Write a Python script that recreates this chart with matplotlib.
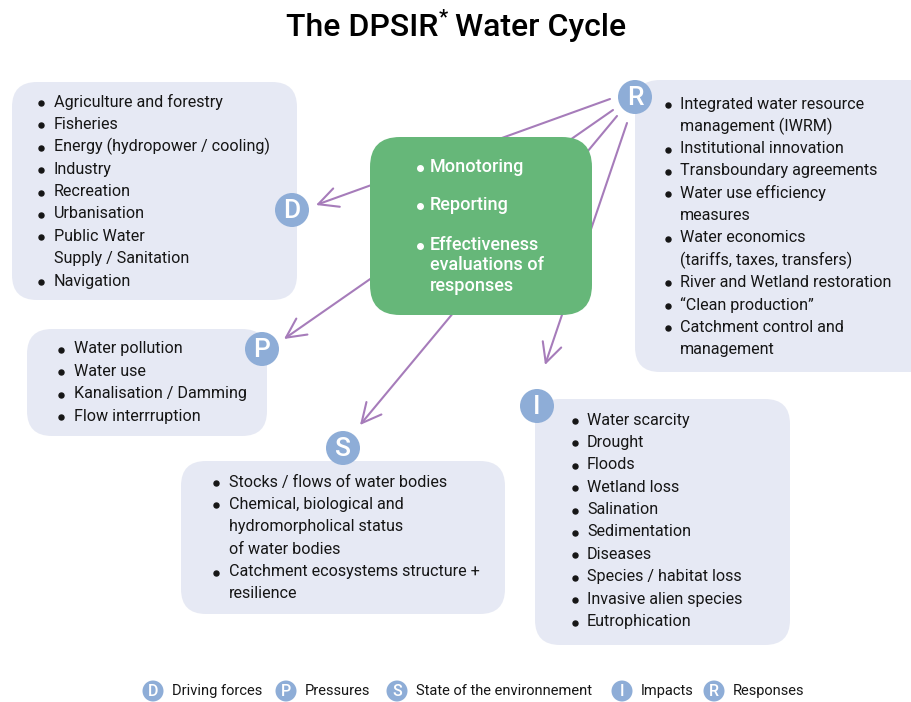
import matplotlib.pyplot as plt
from matplotlib.patches import FancyBboxPatch, Circle, FancyArrowPatch

plt.rcParams['font.family'] = ['Roboto', 'DejaVu Sans']

# box contents
driving = ["Agriculture and forestry", "Fisheries", "Energy (hydropower / cooling)",
           "Industry", "Recreation", "Urbanisation", "Public Water",
           "  Supply / Sanitation", "Navigation"]
pressures = ["Water pollution", "Water use", "Kanalisation / Damming", "Flow interrruption"]
state = ["Stocks / flows of water bodies", "Chemical, biological and",
         "  hydromorpholical status", "  of water bodies",
         "Catchment ecosystems structure +", "  resilience"]
impacts = ["Water scarcity", "Drought", "Floods", "Wetland loss", "Salination",
           "Sedimentation", "Diseases", "Species / habitat loss",
           "Invasive alien species", "Eutrophication"]
responses = ["Integrated water resource", "  management (IWRM)", "Institutional innovation",
             "Transboundary agreements", "Water use efficiency", "  measures",
             "Water economics", "  (tariffs, taxes, transfers)",
             "River and Wetland restoration", "\u201cClean production\u201d",
             "Catchment control and", "  management"]
centre = ["Monotoring", "Reporting", "Effectiveness", "  evaluations of", "  responses"]

legend_keys = ["D", "P", "S", "I", "R"]
legend_labels = ["Driving forces", "Pressures", "State of the environnement", "Impacts", "Responses"]

BOX = "#e6e9f4"
CIRC = "#8eadd7"
GREEN = "#66b779"
ARROW = "#a67cba"
TXT = "#161616"

fig = plt.figure(figsize=(9.12, 7.02), dpi=100)
ax = fig.add_axes([0, 0, 1, 1])
ax.set_xlim(0, 912)
ax.set_ylim(702, 0)
ax.axis('off')


def rbox(x0, y0, x1, y1, color, r=25, z=1):
    p = FancyBboxPatch((x0, y0), x1 - x0, y1 - y0,
                       boxstyle="round,pad=0,rounding_size=%d" % r,
                       fc=color, ec='none', zorder=z)
    ax.add_patch(p)


def bullets(items, xb, xt, y0, dy, color=TXT, size=11.6, z=5, ms=3.6):
    for i, s in enumerate(items):
        y = y0 + i * dy
        if s.startswith("  "):
            ax.text(xt, y, s.strip(), color=color, fontsize=size, va='center', ha='left', zorder=z)
        else:
            ax.plot(xb, y + 1, 'o', ms=ms, color=color, zorder=z)
            ax.text(xt, y, s, color=color, fontsize=size, va='center', ha='left', zorder=z)


def badge(x, y, letter, r=17, size=19):
    ax.add_patch(Circle((x, y), r, fc=CIRC, ec='none', zorder=6))
    ax.text(x, y + 1, letter, color='white', fontsize=size, fontweight='medium',
            ha='center', va='center', zorder=7)


# light boxes
rbox(12, 82, 297, 300, BOX)
rbox(27, 329, 267, 436, BOX)
rbox(181, 461, 505, 614, BOX)
rbox(535, 399, 790, 645, BOX)
rbox(635, 80, 935, 372, BOX)

# arrows from R
origin = [(610, 99), (613, 110), (617, 116), (627, 123)]
targets = [(316, 205), (284, 339), (360, 425), (545, 365)]
for (xa, ya), (xb, yb) in zip(origin, targets):
    a = FancyArrowPatch((xa, ya), (xb, yb), arrowstyle='->,head_length=0.7,head_width=0.35',
                        mutation_scale=20, color=ARROW, lw=1.5, zorder=2,
                        shrinkA=0, shrinkB=0)
    ax.add_patch(a)

# centre box
rbox(370, 137, 592, 315, GREEN, r=30, z=3)
cy = [167, 205, 245, 265.5, 286]
for i, s in enumerate(centre):
    if not s.startswith("  "):
        ax.plot(420, cy[i] + 1, 'o', ms=4, color='white', zorder=5)
    ax.text(430, cy[i], s.strip(), color='white', fontsize=13, fontweight='medium',
            va='center', zorder=5)

# lists
bullets(driving, 41, 54, 102, 22.4)
bullets(pressures, 61, 74, 349, 22.4)
bullets(state, 216, 229, 482, 22.4)
bullets(impacts, 575, 587, 420, 22.4)
bullets(responses, 668, 680, 104, 22.3)

# badges
badge(292, 210, "D")
badge(262, 349, "P")
badge(343, 448, "S")
badge(537, 406, "I")
badge(635, 97, "R")

# title
ax.text(438, 27, "The DPSIR", fontsize=23, fontweight='medium', ha='right', va='center', color='black')
ax.text(443, 18, "*", fontsize=15, fontweight='medium', ha='center', va='center', color='black')
ax.text(455, 27, "Water Cycle", fontsize=23, fontweight='medium', ha='left', va='center', color='black')

# legend
lx = [153, 286, 397, 622, 714]
for k, lab, x in zip(legend_keys, legend_labels, lx):
    ax.add_patch(Circle((x, 691), 10.5, fc=CIRC, ec='none', zorder=6))
    ax.text(x, 692, k, color='white', fontsize=11.5, fontweight='medium', ha='center', va='center', zorder=7)
    ax.text(x + 19, 691, lab, color=TXT, fontsize=10.5, ha='left', va='center')

fig.savefig("out.png", dpi=100)
